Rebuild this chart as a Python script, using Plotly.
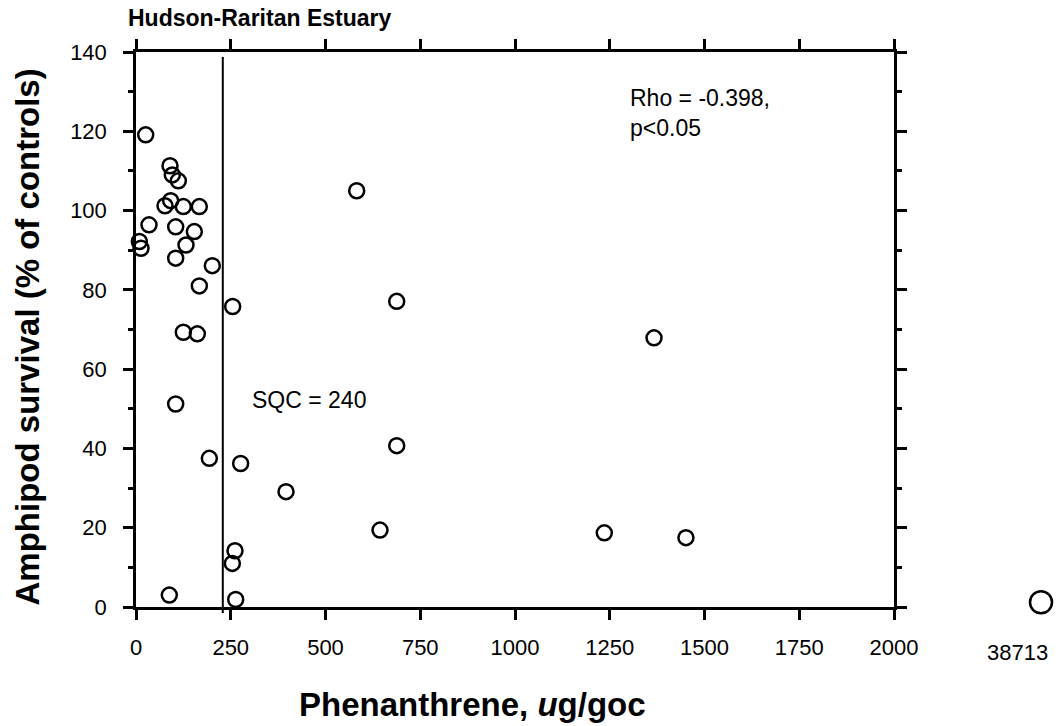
import plotly.graph_objects as go

# ---- data ----
phenanthrene = [25.6, 89.7, 95.8, 111.7, 91.5, 76.5, 124.9, 167.1, 34.3, 104.7,
                153.9, 8.8, 13.2, 131.9, 104.7, 201.3, 167.1, 255.0, 124.9, 161.8,
                104.7, 193.5, 276.1, 261.2, 254.2, 87.9, 263.0,
                582.3, 687.9, 1366.8, 687.9, 395.8, 643.8, 1235.6, 1451.0]
survival = [119.1, 111.3, 109.0, 107.5, 102.5, 101.2, 101.0, 101.0, 96.4, 95.9,
            94.7, 92.2, 90.5, 91.3, 88.0, 86.1, 81.0, 75.8, 69.3, 68.9,
            51.2, 37.5, 36.2, 14.2, 11.0, 3.0, 1.9,
            105.0, 77.1, 67.9, 40.7, 29.1, 19.4, 18.7, 17.5]
outlier_x = [38713]
outlier_y = [1.2]
outlier_label = "38713"
sqc_line_x = 229
sqc_label = "SQC = 240"
stats_label = "Rho = -0.398,<br>p&lt;0.05"
x_ticks = [0, 250, 500, 750, 1000, 1250, 1500, 1750, 2000]
y_ticks = [0, 20, 40, 60, 80, 100, 120, 140]

FONT = "Liberation Sans, Arial, sans-serif"
W, H = 1058, 726
ML, MR, MT, MB = 136, 0, 52, 119
PW = W - ML - MR
PH = H - MT - MB
MAIN_W = 758


def px_x(p):
    return (p - ML) / PW


def px_y(p):
    return (H - MB - p) / PH


fig = go.Figure()
fig.add_trace(go.Scatter(
    x=phenanthrene, y=survival, mode="markers", cliponaxis=False,
    marker=dict(symbol="circle-open", size=15, color="black",
                line=dict(width=2.5, color="black")),
    showlegend=False, xaxis="x", yaxis="y"))
fig.add_trace(go.Scatter(
    x=outlier_x, y=outlier_y, mode="markers", cliponaxis=False,
    marker=dict(symbol="circle-open", size=22, color="black",
                line=dict(width=2.5, color="black")),
    showlegend=False, xaxis="x2", yaxis="y"))

axis_common = dict(showline=True, linecolor="black", linewidth=2.5,
                   ticks="outside", tickcolor="black", tickwidth=2.5, ticklen=10,
                   showgrid=False, zeroline=False, mirror="ticks",
                   tickfont=dict(family=FONT, size=22, color="black"),
                   automargin=False)

fig.update_layout(
    width=W, height=H,
    margin=dict(l=ML, r=MR, t=MT, b=MB, autoexpand=False),
    paper_bgcolor="white", plot_bgcolor="white",
    font=dict(family=FONT, color="black"),
    title=dict(text="<b>Hudson-Raritan Estuary</b>", font=dict(family=FONT, size=23, color="black"),
               xref="container", yref="container", x=128 / W, xanchor="left",
               y=1 - 10 / H, yanchor="top", pad=dict(t=0, b=0, l=0, r=0)),
    xaxis=dict(domain=[0, MAIN_W / PW], range=[0, 2000], tickvals=x_ticks,
               ticklabelstandoff=9, anchor="y", **axis_common),
    xaxis2=dict(domain=[px_x(1028), px_x(1054)], range=[outlier_x[0] - 1, outlier_x[0] + 1],
                showline=False, showticklabels=False, ticks="", showgrid=False,
                zeroline=False, anchor="y", automargin=False),
    yaxis=dict(range=[0, 140], tickvals=y_ticks, ticklabelstandoff=12, anchor="x",
               minor=dict(dtick=10, ticks="outside", ticklen=5, tickwidth=2.5, tickcolor="black"),
               **axis_common),
    showlegend=False,
)

fig.add_shape(type="line", xref="x", yref="y domain", x0=sqc_line_x, x1=sqc_line_x,
              y0=px_y(613), y1=px_y(57), line=dict(color="black", width=2))

fig.add_annotation(text=stats_label, xref="x", yref="y", x=1298, y=132.3,
                   xanchor="left", yanchor="top", align="left", showarrow=False,
                   font=dict(family=FONT, size=23, color="black"))
fig.add_annotation(text=sqc_label, xref="x", yref="y", x=301, y=55.9,
                   xanchor="left", yanchor="top", align="left", showarrow=False,
                   font=dict(family=FONT, size=23, color="black"))
fig.add_annotation(text=outlier_label, xref="paper", yref="paper", x=px_x(1017), y=px_y(638),
                   xanchor="center", yanchor="top", showarrow=False,
                   font=dict(family=FONT, size=22, color="black"))
fig.add_annotation(text="<b>Phenanthrene, <i>u</i>g/goc</b>", xref="paper", yref="paper",
                   x=px_x(472), y=px_y(704), xanchor="center", yanchor="middle", showarrow=False,
                   font=dict(family=FONT, size=33, color="black"))
fig.add_annotation(text="<b>Amphipod survival (% of controls)</b>", xref="paper", yref="paper",
                   x=px_x(27), y=px_y(337.5), xanchor="center", yanchor="middle", textangle=-90,
                   showarrow=False, font=dict(family=FONT, size=33, color="black"))

fig.write_html("out.html", config={"displayModeBar": False},
               post_script="document.body.style.margin='0';document.body.style.overflow='hidden';")
